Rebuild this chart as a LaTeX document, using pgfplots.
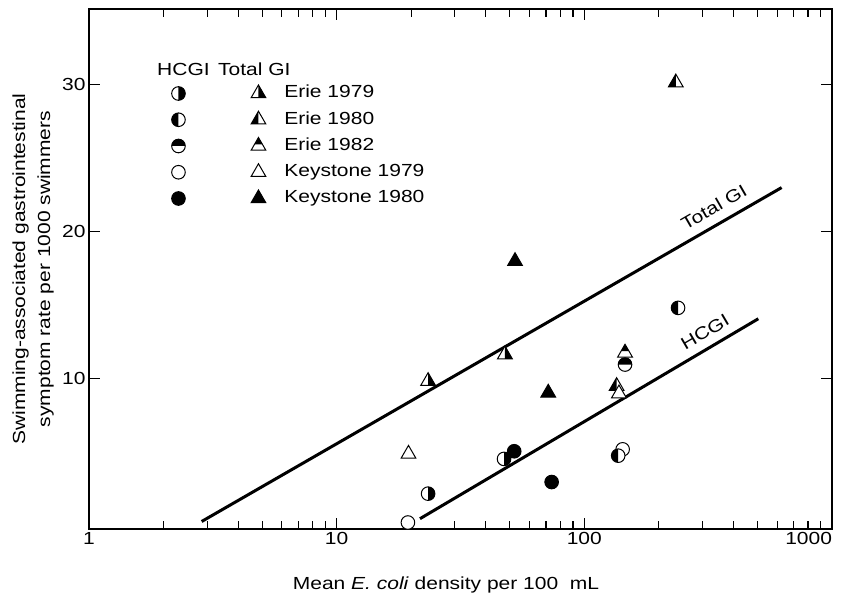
\documentclass[border=0pt]{standalone}
\usepackage{fontspec}
\setmainfont{Liberation Sans}[FakeStretch=1.2]
\usepackage{pgfplots}
\pgfplotsset{compat=1.18}
\newcommand\ff{\fontsize{17.5}{21}\selectfont}

% circle marks
\pgfdeclareplotmark{cO}{\pgfpathcircle{\pgfpointorigin}{\pgfplotmarksize}\pgfsetfillcolor{white}\pgfusepath{fill,stroke}}
\pgfdeclareplotmark{cF}{\pgfpathcircle{\pgfpointorigin}{\pgfplotmarksize}\pgfsetfillcolor{black}\pgfusepath{fill,stroke}}
\pgfdeclareplotmark{cR}{%
  \pgfpathcircle{\pgfpointorigin}{\pgfplotmarksize}\pgfsetfillcolor{white}\pgfusepath{fill}%
  \pgfpathmoveto{\pgfpoint{0pt}{\pgfplotmarksize}}\pgfpatharc{90}{-90}{\pgfplotmarksize}\pgfpathclose
  \pgfsetfillcolor{black}\pgfusepath{fill}%
  \pgfpathcircle{\pgfpointorigin}{\pgfplotmarksize}\pgfusepath{stroke}}
\pgfdeclareplotmark{cL}{%
  \pgfpathcircle{\pgfpointorigin}{\pgfplotmarksize}\pgfsetfillcolor{white}\pgfusepath{fill}%
  \pgfpathmoveto{\pgfpoint{0pt}{\pgfplotmarksize}}\pgfpatharc{90}{270}{\pgfplotmarksize}\pgfpathclose
  \pgfsetfillcolor{black}\pgfusepath{fill}%
  \pgfpathcircle{\pgfpointorigin}{\pgfplotmarksize}\pgfusepath{stroke}}
\pgfdeclareplotmark{cT}{%
  \pgfpathcircle{\pgfpointorigin}{\pgfplotmarksize}\pgfsetfillcolor{white}\pgfusepath{fill}%
  \pgfpathmoveto{\pgfpoint{\pgfplotmarksize}{0pt}}\pgfpatharc{0}{180}{\pgfplotmarksize}\pgfpathclose
  \pgfsetfillcolor{black}\pgfusepath{fill}%
  \pgfpathcircle{\pgfpointorigin}{\pgfplotmarksize}\pgfusepath{stroke}}
% triangle marks
\newcommand\tripath{%
  \pgfpathmoveto{\pgfpoint{0pt}{\pgfplotmarksize}}%
  \pgfpathlineto{\pgfpoint{-0.866\pgfplotmarksize}{-0.5\pgfplotmarksize}}%
  \pgfpathlineto{\pgfpoint{0.866\pgfplotmarksize}{-0.5\pgfplotmarksize}}%
  \pgfpathclose}
\pgfdeclareplotmark{tO}{\tripath\pgfsetfillcolor{white}\pgfusepath{fill,stroke}}
\pgfdeclareplotmark{tF}{\tripath\pgfsetfillcolor{black}\pgfusepath{fill,stroke}}
\pgfdeclareplotmark{tR}{\tripath\pgfsetfillcolor{white}\pgfusepath{fill}%
  \pgfpathmoveto{\pgfpoint{0pt}{\pgfplotmarksize}}%
  \pgfpathlineto{\pgfpoint{0.866\pgfplotmarksize}{-0.5\pgfplotmarksize}}%
  \pgfpathlineto{\pgfpoint{0pt}{-0.5\pgfplotmarksize}}\pgfpathclose
  \pgfsetfillcolor{black}\pgfusepath{fill}%
  \tripath\pgfusepath{stroke}}
\pgfdeclareplotmark{tL}{\tripath\pgfsetfillcolor{white}\pgfusepath{fill}%
  \pgfpathmoveto{\pgfpoint{0pt}{\pgfplotmarksize}}%
  \pgfpathlineto{\pgfpoint{-0.866\pgfplotmarksize}{-0.5\pgfplotmarksize}}%
  \pgfpathlineto{\pgfpoint{0pt}{-0.5\pgfplotmarksize}}\pgfpathclose
  \pgfsetfillcolor{black}\pgfusepath{fill}%
  \tripath\pgfusepath{stroke}}
\pgfdeclareplotmark{tT}{\tripath\pgfsetfillcolor{white}\pgfusepath{fill}%
  \pgfpathmoveto{\pgfpoint{0pt}{\pgfplotmarksize}}%
  \pgfpathlineto{\pgfpoint{0.4619\pgfplotmarksize}{0.2\pgfplotmarksize}}%
  \pgfpathlineto{\pgfpoint{-0.4619\pgfplotmarksize}{0.2\pgfplotmarksize}}\pgfpathclose
  \pgfsetfillcolor{black}\pgfusepath{fill}%
  \tripath\pgfusepath{stroke}}

\newcommand\legpair[2]{%
  \draw[black,line width=1pt] plot[only marks, mark=#1, mark size=6.8pt] coordinates {(-80pt,0pt)};
  \draw[black,line width=1pt] plot[only marks, mark=#2, mark size=8.5pt] coordinates {(0pt,0pt)};}

\begin{document}
\begin{tikzpicture}
\useasboundingbox (0,0) rectangle (841pt,597pt);
\begin{axis}[
  at={(89pt,68pt)}, anchor=south west,
  scale only axis, width=743pt, height=520pt,
  xmode=log, xmin=1, xmax=1000, ymin=-0.22, ymax=35.1,
  xtick={1,10,100,1000}, xticklabels={1,10,100,\makebox[0pt][r]{1000}},
  ytick={10,20,30}, yticklabels={10,20,30},
  minor y tick num=0,
  tick align=inside,
  major tick length=11pt, minor tick length=8pt,
  tick style={line width=1.1pt, black},
  axis line style={line width=1.6pt},
  tick label style={font=\ff},
  clip=false,
  xlabel={Mean \textit{E. coli} density per 100\ \ mL},
  ylabel={Swimming-associated gastrointestinal\\symptom rate per 1000 swimmers},
  xlabel style={at={(axis description cs:0.4805,-0.1077)}, anchor=center, font=\ff},
  ylabel style={at={(axis description cs:-0.0754,0.5)}, anchor=center, font=\fontsize{17.5}{25}\selectfont, align=center},
  legend cell align=left,
  legend style={at={(axis description cs:0.1106,0.8548)}, anchor=north west, draw=none, fill=none,
    inner sep=0pt, outer sep=0pt, font=\ff,
    nodes={inner sep=0pt, text height=12.6pt, text depth=3.7pt},
    column sep=18pt, row sep=9.1pt},
]
% regression lines
\addplot[black, line width=3pt, forget plot] coordinates {(2.85,0.29) (626,22.97)};
\addplot[black, line width=3pt, forget plot] coordinates {(21.7,0.48) (504,14.06)};

% HCGI
\addplot[only marks, mark=cO, mark size=6.8pt, line width=1pt, black, forget plot] coordinates {(19.4,0.22) (142.8,5.19)};
\addplot[only marks, mark=cR, mark size=6.8pt, line width=1pt, black, forget plot] coordinates {(23.4,2.18) (47.4,4.54)};
\addplot[only marks, mark=cL, mark size=6.8pt, line width=1pt, black, forget plot] coordinates {(239,14.8) (137,4.76)};
\addplot[only marks, mark=cT, mark size=6.8pt, line width=1pt, black, forget plot] coordinates {(146,10.95)};
\addplot[only marks, mark=cF, mark size=6.8pt, line width=1pt, black, forget plot] coordinates {(52.1,5.06) (73.8,2.97)};
% Total GI
\addplot[only marks, mark=tR, mark size=8.5pt, line width=1pt, black, forget plot] coordinates {(23.4,9.82) (47.8,11.63)};
\addplot[only marks, mark=tL, mark size=8.5pt, line width=1pt, black, forget plot] coordinates {(234,30.1) (135,9.48)};
\addplot[only marks, mark=tT, mark size=8.5pt, line width=1pt, black, forget plot] coordinates {(146,11.75)};
\addplot[only marks, mark=tO, mark size=8.5pt, line width=1pt, black, forget plot] coordinates {(19.5,4.88) (138,8.98)};
\addplot[only marks, mark=tF, mark size=8.5pt, line width=1pt, black, forget plot] coordinates {(52.5,17.97) (71.5,9.03)};

% legend
\addlegendimage{legend image code/.code={\legpair{cR}{tR}}}
\addlegendentry{Erie 1979}
\addlegendimage{legend image code/.code={\legpair{cL}{tL}}}
\addlegendentry{Erie 1980}
\addlegendimage{legend image code/.code={\legpair{cT}{tT}}}
\addlegendentry{Erie 1982}
\addlegendimage{legend image code/.code={\legpair{cO}{tO}}}
\addlegendentry{Keystone 1979}
\addlegendimage{legend image code/.code={\legpair{cF}{tF}}}
\addlegendentry{Keystone 1980}

\node[anchor=base west, font=\ff, inner sep=0pt] at (axis description cs:0.0915,0.8726) {HCGI};
\node[anchor=base west, font=\ff, inner sep=0pt] at (axis description cs:0.1736,0.8726) {Total GI};

\node[rotate=30, font=\ff] at (axis cs:333.6,21.64) {Total GI};
\node[rotate=30.5, font=\ff] at (axis cs:307,13.15) {HCGI};
\end{axis}
\end{tikzpicture}
\end{document}
